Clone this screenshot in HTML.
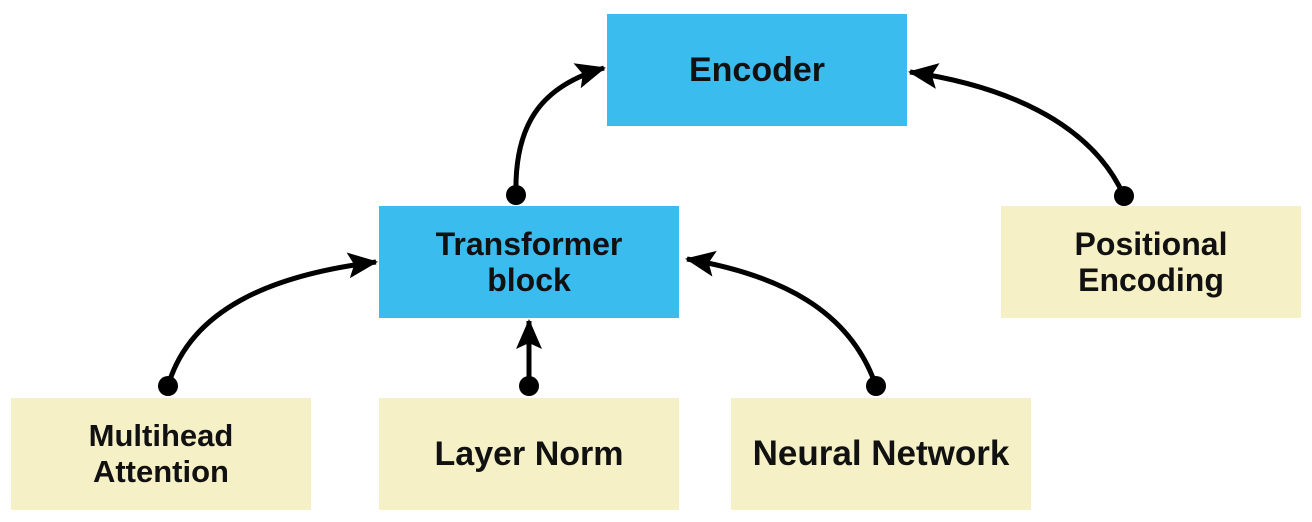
<!DOCTYPE html>
<html><head><meta charset="utf-8"><style>
body{margin:0;background:#fff;width:1312px;height:522px;overflow:hidden;position:relative;font-family:"Liberation Sans",sans-serif;font-weight:bold;}
.b{position:absolute;width:300px;height:112px;display:flex;align-items:center;justify-content:center;text-align:center;font-size:31px;line-height:36px;color:#111;}
.blue{background:#3bbcee}
.y{background:#f5f0c6}
svg{position:absolute;left:0;top:0}
</style></head><body>
<div class="b blue" style="left:607px;top:14px;font-size:34px">Encoder</div>
<div class="b blue" style="left:379px;top:206px;font-size:32px">Transformer<br>block</div>
<div class="b y" style="left:1001px;top:206px;font-size:32px">Positional<br>Encoding</div>
<div class="b y" style="left:11px;top:398px;font-size:31px">Multihead<br>Attention</div>
<div class="b y" style="left:379px;top:398px;font-size:34px">Layer Norm</div>
<div class="b y" style="left:731px;top:398px;font-size:35px">Neural Network</div>
<svg width="1312" height="522">
<defs><marker id="a" markerUnits="userSpaceOnUse" markerWidth="34" markerHeight="28" refX="28" refY="13" orient="auto"><path d="M0,0 L30,13 L0,26 L6,13 Z" fill="#000"/></marker></defs>
<g fill="none" stroke="#000" stroke-width="5">
<path d="M516,195 C514,120 545,85 604,68" marker-end="url(#a)"/>
<path d="M1124,196 C1090,120 1000,85 910,72" marker-end="url(#a)"/>
<path d="M168,386 C190,310 270,275 376,262" marker-end="url(#a)"/>
<path d="M529,386 L529,321" marker-end="url(#a)"/>
<path d="M876,386 C850,310 780,275 687,259" marker-end="url(#a)"/>
</g>
<g fill="#000">
<circle cx="516" cy="195" r="10"/><circle cx="1124" cy="196" r="10"/><circle cx="168" cy="386" r="10"/><circle cx="529" cy="386" r="10"/><circle cx="876" cy="386" r="10"/>
</g>
</svg>
</body></html>
